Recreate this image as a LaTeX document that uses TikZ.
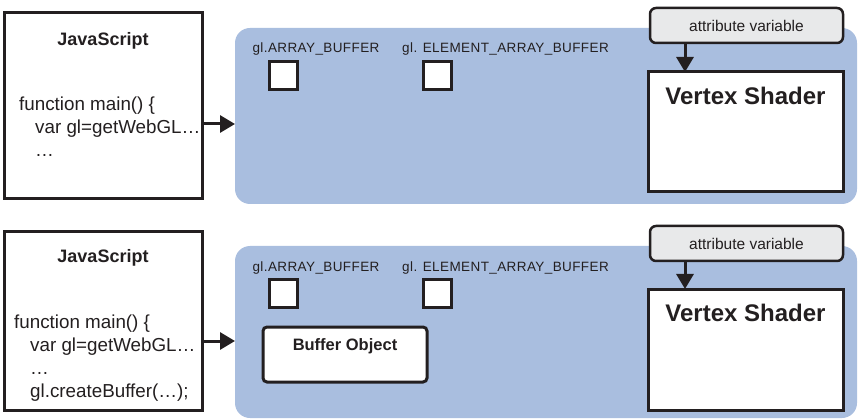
\documentclass[tikz,border=0pt]{standalone}
\usepackage{fontspec}
\setmainfont{Liberation Sans}
\usetikzlibrary{arrows.meta,positioning}
\definecolor{panelblue}{RGB}{169,190,223}
\definecolor{attrgray}{RGB}{232,233,234}
\definecolor{ink}{RGB}{35,31,32}

\begin{document}
\begin{tikzpicture}[x=1pt, y=-1pt,
    panel/.style={fill=panelblue, rounded corners=15pt, minimum width=622pt, outer sep=0pt, inner sep=0pt},
    jsbox/.style={draw=ink, line width=3pt, fill=white, minimum width=198pt, outer sep=0pt},
    jstitle/.style={font=\bfseries\fontsize{18}{22}\selectfont, text=ink, inner sep=0pt},
    code/.style={font=\fontsize{18.8}{23}\selectfont, text=ink, align=left, anchor=north west, inner sep=0pt},
    target/.style={font=\fontsize{13.5}{16}\selectfont\addfontfeatures{LetterSpace=3}, text=ink, inner sep=0pt},
    slot/.style={draw=ink, line width=3pt, fill=white, minimum size=28pt, inner sep=0pt, outer sep=0pt},
    attr/.style={draw=ink, line width=2.5pt, fill=attrgray, rounded corners=6pt, minimum width=193pt, minimum height=35pt,
        font=\fontsize{15.5}{18}\selectfont, text=ink, outer sep=0pt},
    shader/.style={draw=ink, line width=3pt, fill=white, minimum width=195pt, outer sep=0pt},
    shadertitle/.style={font=\bfseries\fontsize{24}{28}\selectfont, text=ink, inner sep=0pt},
    bufobj/.style={draw=ink, line width=3pt, fill=white, rounded corners=4pt, minimum width=164pt, minimum height=55pt, outer sep=0pt},
    arr/.style={draw=ink, line width=3pt, -{Triangle[length=15pt, width=17pt]}}
]
\useasboundingbox (0,0) rectangle (858,419);

% before gl.createBuffer()
\node[panel, minimum height=176pt] (panel1) at (546,116) {};
\node[jsbox, minimum height=186pt] (js1) at (103,106) {};
\node[jstitle, below=19pt of js1.north] (jst1) {JavaScript};
\node[code] (code1) at (19,97) {function main() \{\\
    \hspace*{16pt}var gl=getWebGL…\\
    \hspace*{16pt}…};
\node[target] (ab1) at (316,49) {gl.ARRAY\_BUFFER};
\node[target] (eab1) at (505.5,49) {gl. ELEMENT\_ARRAY\_BUFFER};
\node[slot] (sa1) at (283,76) {};
\node[slot] (se1) at (437,76) {};
\node[shader, minimum height=120pt] (vs1) at (745.5,132) {};
\node[shadertitle, below=15pt of vs1.north] (vst1) {Vertex Shader};
\node[attr] (attr1) at (746.5,25.5) {attribute variable};

\draw[arr] ([yshift=-18pt]js1.east) -- ([yshift=-18pt]js1.east -| panel1.west);
\draw[arr] ([xshift=-61.5pt]attr1.south) -- ([xshift=-61.5pt]attr1.south |- vs1.north);

% after gl.createBuffer()
\node[panel, minimum height=172pt] (panel2) at (546,332) {};
\node[jsbox, minimum height=178pt] (js2) at (103,321) {};
\node[jstitle, below=17pt of js2.north] (jst2) {JavaScript};
\node[code] (code2) at (14,315) {function main() \{\\
    \hspace*{16pt}var gl=getWebGL…\\
    \hspace*{16pt}…\\
    \hspace*{16pt}gl.createBuffer(…);};
\node[target] (ab2) at (316,268) {gl.ARRAY\_BUFFER};
\node[target] (eab2) at (505.5,268) {gl. ELEMENT\_ARRAY\_BUFFER};
\node[slot] (sa2) at (283,293.5) {};
\node[slot] (se2) at (437,293.5) {};
\node[bufobj] (bo2) at (345,354.5) {};
\node[jstitle, font=\bfseries\fontsize{16.5}{20}\selectfont, below=11pt of bo2.north] (bot2) {Buffer Object};
\node[shader, minimum height=121pt] (vs2) at (745.5,349.5) {};
\node[shadertitle, below=15pt of vs2.north] (vst2) {Vertex Shader};
\node[attr] (attr2) at (746.5,243.5) {attribute variable};

\draw[arr] ([yshift=-20pt]js2.east) -- ([yshift=-20pt]js2.east -| panel2.west);
\draw[arr] ([xshift=-61.5pt]attr2.south) -- ([xshift=-61.5pt]attr2.south |- vs2.north);
\end{tikzpicture}
\end{document}
